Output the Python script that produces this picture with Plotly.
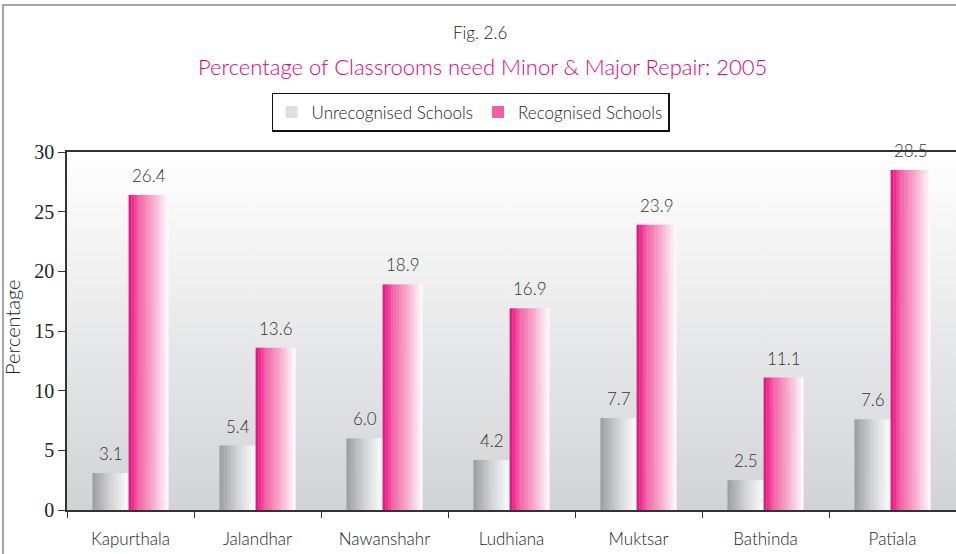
import base64
import plotly.graph_objects as go

# ---- data ----
districts = ["Kapurthala", "Jalandhar", "Nawanshahr", "Ludhiana", "Muktsar", "Bathinda", "Patiala"]
unrecognised = [3.1, 5.4, 6.0, 4.2, 7.7, 2.5, 7.6]
recognised = [26.4, 13.6, 18.9, 16.9, 23.9, 11.1, 28.5]
series_names = ["Unrecognised Schools", "Recognised Schools"]
y_ticks = [0, 5, 10, 15, 20, 25, 30]

# ---- styling ----
SANS = "Lato, 'Noto Sans', sans-serif"
SERIF = "'Liberation Serif', 'DejaVu Serif', serif"
W = 300
N_SLICES = 15

def lerp_stops(stops, t):
    for (t0, c0), (t1, c1) in zip(stops, stops[1:]):
        if t0 <= t <= t1:
            f = 0 if t1 == t0 else (t - t0) / (t1 - t0)
            return "rgb(%d,%d,%d)" % tuple(round(a + (b - a) * f) for a, b in zip(c0, c1))
    return "rgb(%d,%d,%d)" % stops[-1][1]

grey_stops = [(0.0, (155, 156, 160)), (0.5, (210, 211, 213)), (1.0, (255, 255, 255))]
pink_stops = [(0.0, (234, 10, 128)), (0.25, (240, 100, 165)), (0.6, (245, 170, 205)), (1.0, (255, 255, 255))]

series = [
    dict(name=series_names[0], values=unrecognised, offset=-0.30, width=0.285, stops=grey_stops, legend_k=9),
    dict(name=series_names[1], values=recognised, offset=-0.015, width=0.315, stops=pink_stops, legend_k=3),
]

fig = go.Figure()
annotations = []
for s in series:
    sw = s["width"] / N_SLICES
    for k in range(N_SLICES):
        t = (k + 0.5) / N_SLICES
        col = lerp_stops(s["stops"], t)
        fig.add_trace(go.Bar(
            x=districts, y=s["values"],
            offset=s["offset"] + k * sw,
            width=sw + (0.003 if k < N_SLICES - 1 else 0),
            marker=dict(color=col, line=dict(width=0)),
            name=s["name"], legendgroup=s["name"],
            showlegend=(k == s["legend_k"]),
            hoverinfo="skip",
        ))
    centre = s["offset"] + s["width"] / 2
    for i, v in enumerate(s["values"]):
        annotations.append(dict(
            x=i + centre, y=v, xref="x", yref="y", text=f"{v:.1f}",
            showarrow=False, yanchor="bottom", yshift=7,
            font=dict(family=SANS, size=17, color="#333333", weight=W),
        ))

# titles
annotations += [
    dict(text="Fig. 2.6", x=0.4646, y=1.335, xref="paper", yref="paper",
         showarrow=False, xanchor="center", yanchor="middle",
         font=dict(family=SANS, size=17, color="#222222", weight=W)),
    dict(text="Percentage of Classrooms need Minor & Major Repair: 2005", x=0.467, y=1.24,
         xref="paper", yref="paper", showarrow=False, xanchor="center", yanchor="middle",
         font=dict(family=SANS, size=22, color="#e6007e", weight=W)),
    dict(text="Percentage", x=-0.062, y=0.511, xref="paper", yref="paper", textangle=-90,
         showarrow=False, xanchor="center", yanchor="middle",
         font=dict(family=SANS, size=20, color="#222222", weight=W)),
]

svg = ('<svg xmlns="http://www.w3.org/2000/svg" width="10" height="100" viewBox="0 0 10 100" '
       'preserveAspectRatio="none"><defs><linearGradient id="g" x1="0" y1="0" x2="0" y2="1">'
       '<stop offset="0" stop-color="#ffffff"/><stop offset="1" stop-color="#d2d3d5"/>'
       '</linearGradient></defs><rect width="10" height="100" fill="url(#g)"/></svg>')
bg_src = "data:image/svg+xml;base64," + base64.b64encode(svg.encode()).decode()

fig.update_layout(
    width=956, height=554,
    margin=dict(l=67, r=0, t=152, b=44, autoexpand=False),
    paper_bgcolor="white",
    plot_bgcolor="rgba(0,0,0,0)",
    barmode="overlay",
    showlegend=True,
    legend=dict(orientation="h", x=0.454, xanchor="center", y=1.165, yanchor="top",
                bordercolor="#111111", borderwidth=1.5, bgcolor="white",
                font=dict(family=SANS, size=17, color="#222222", weight=W),
                itemwidth=30, tracegroupgap=0),
    annotations=annotations,
    images=[dict(source=bg_src, xref="paper", yref="paper", x=0, y=1, sizex=1, sizey=1,
                 sizing="stretch", layer="below", xanchor="left", yanchor="top")],
    shapes=[dict(type="rect", xref="paper", yref="paper", x0=-0.072, x1=1.2, y0=-0.5, y1=1.4106,
                 line=dict(color="#8a8a8a", width=1.5), fillcolor="rgba(0,0,0,0)", layer="below")],
)
fig.update_xaxes(
    type="category", categoryorder="array", categoryarray=districts, automargin=False,
    range=[-0.5, 6.5], tickson="boundaries", ticks="outside", ticklen=6, tickcolor="#333333",
    showline=True, linecolor="#333333", linewidth=1.5, mirror=True,
    showgrid=False, zeroline=False, ticklabelstandoff=13,
    tickfont=dict(family=SANS, size=17, color="#222222", weight=W),
)
fig.update_yaxes(
    range=[0, 30], tickvals=y_ticks, ticktext=[str(v) for v in y_ticks], automargin=False,
    ticks="outside", ticklen=7, tickcolor="#333333",
    showline=True, linecolor="#333333", linewidth=1.5,
    showgrid=False, zeroline=False,
    tickfont=dict(family=SERIF, size=20, color="#222222"),
)

fig.write_html("out.html", config={"displayModeBar": False},
               post_script="document.body.style.margin='0';document.body.style.overflow='hidden';")
